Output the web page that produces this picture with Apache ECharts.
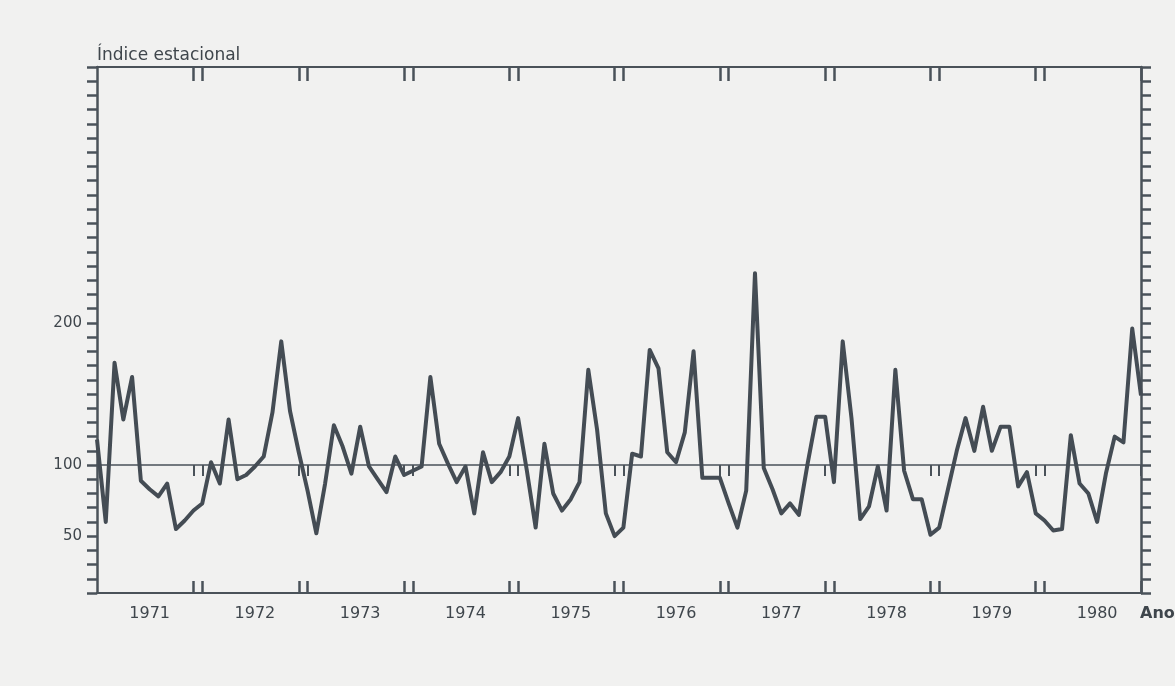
<!DOCTYPE html>
<html>
<head>
<meta charset="utf-8">
<script src="https://cdn.jsdelivr.net/npm/echarts@6/dist/echarts.min.js"></script>
<style>
  html, body { margin: 0; padding: 0; background: #f1f1f0; }
  #chart { width: 1175px; height: 686px; }
</style>
</head>
<body>
<div id="chart"></div>
<script>
// Monthly seasonal index, 1971–1980 (base = 100)
const years = [1971, 1972, 1973, 1974, 1975, 1976, 1977, 1978, 1979, 1980];
const months = ['01', '02', '03', '04', '05', '06', '07', '08', '09', '10', '11', '12'];

const idx1971 = [118, 60, 172, 132, 162, 89, 83, 78, 87, 55, 61, 68];
const idx1972 = [73, 102, 87, 132, 90, 93, 99, 106, 137, 187, 138, 109];
const idx1973 = [82, 52, 87, 128, 113, 94, 127, 99, 90, 81, 106, 93];
const idx1974 = [96, 99, 162, 115, 101, 88, 99, 66, 109, 88, 95, 106];
const idx1975 = [133, 96, 56, 115, 80, 68, 76, 88, 167, 125, 66, 50];
const idx1976 = [56, 108, 106, 181, 168, 109, 102, 123, 180, 91, 91, 91];
const idx1977 = [73, 56, 82, 235, 98, 83, 66, 73, 65, 101, 134, 134];
const idx1978 = [88, 187, 133, 62, 71, 99, 68, 167, 96, 76, 76, 51];
const idx1979 = [56, 83, 110, 133, 110, 141, 110, 127, 127, 85, 95, 66];
const idx1980 = [61, 54, 55, 121, 87, 80, 60, 94, 120, 116, 196, 149];

const yTickLabels = [50, 100, 200];

const categories = years.flatMap(y => months.map(m => y + '-' + m));
const values = [].concat(idx1971, idx1972, idx1973, idx1974, idx1975,
                         idx1976, idx1977, idx1978, idx1979, idx1980);

const ink = '#4a5259';
const textInk = '#3f464c';
const font = 'DejaVu Sans';

// paired marks on each side of a year change (December / January)
const yearEdge = i => i % 12 === 11 || (i % 12 === 0 && i > 0);

const chart = echarts.init(document.getElementById('chart'), null, { renderer: 'canvas' });

chart.setOption({
  backgroundColor: '#f1f1f0',
  animation: false,
  grid: { left: 97, right: 34, top: 67, bottom: 93, containLabel: false },
  xAxis: [
    {
      type: 'category', data: categories, boundaryGap: false, position: 'bottom',
      axisLine: { onZero: false, lineStyle: { color: ink, width: 2 } },
      axisTick: { inside: true, length: 12, interval: i => yearEdge(i), lineStyle: { color: ink, width: 2.5 } },
      axisLabel: {
        interval: i => i % 12 === 6,
        formatter: v => v.slice(0, 4),
        margin: 13, color: textInk, fontSize: 16, fontFamily: font
      },
      splitLine: { show: false }
    },
    {
      type: 'category', data: categories, boundaryGap: false, position: 'top',
      axisLine: { onZero: false, lineStyle: { color: ink, width: 2 } },
      axisTick: { inside: true, length: 14, interval: i => yearEdge(i), lineStyle: { color: ink, width: 2.5 } },
      axisLabel: { show: false },
      splitLine: { show: false }
    },
    {
      // base line at index 100
      type: 'category', data: categories, boundaryGap: false, position: 'bottom',
      axisLine: { onZero: true, onZeroAxisIndex: 2, lineStyle: { color: ink, width: 1.6 } },
      axisTick: { inside: false, length: 11, interval: i => yearEdge(i), lineStyle: { color: ink, width: 2 } },
      axisLabel: { show: false },
      splitLine: { show: false }
    }
  ],
  yAxis: [
    {
      type: 'value', min: 10, max: 380, interval: 10, position: 'left',
      name: 'Índice estacional', nameLocation: 'end', nameGap: 3,
      nameTextStyle: { align: 'left', verticalAlign: 'bottom', color: textInk, fontSize: 17, fontFamily: font },
      axisLine: { show: true, onZero: false, lineStyle: { color: ink, width: 2.5 } },
      axisTick: { show: true, length: 10, lineStyle: { color: ink, width: 2.5 } },
      axisLabel: {
        formatter: v => (yTickLabels.includes(v) ? String(v) : ''),
        margin: 15, color: textInk, fontSize: 15, fontFamily: font
      },
      splitLine: { show: false }
    },
    {
      type: 'value', min: 10, max: 380, interval: 10, position: 'right',
      axisLine: { show: true, onZero: false, lineStyle: { color: ink, width: 2.5 } },
      axisTick: { show: true, length: 10, lineStyle: { color: ink, width: 2.5 } },
      axisLabel: { show: false },
      splitLine: { show: false }
    },
    {
      // same scale shifted so that its zero sits at index 100
      type: 'value', min: -90, max: 280, show: false, splitLine: { show: false }
    }
  ],
  graphic: [
    {
      type: 'text', left: 1140, top: 606,
      style: { text: 'Ano', fill: textInk, fontSize: 16, fontFamily: font, fontWeight: 'bold' }
    }
  ],
  series: [
    {
      type: 'line', data: values, xAxisIndex: 0, yAxisIndex: 0,
      symbol: 'none', smooth: false,
      lineStyle: { color: '#444c54', width: 4, join: 'round' }
    }
  ]
});
</script>
</body>
</html>
